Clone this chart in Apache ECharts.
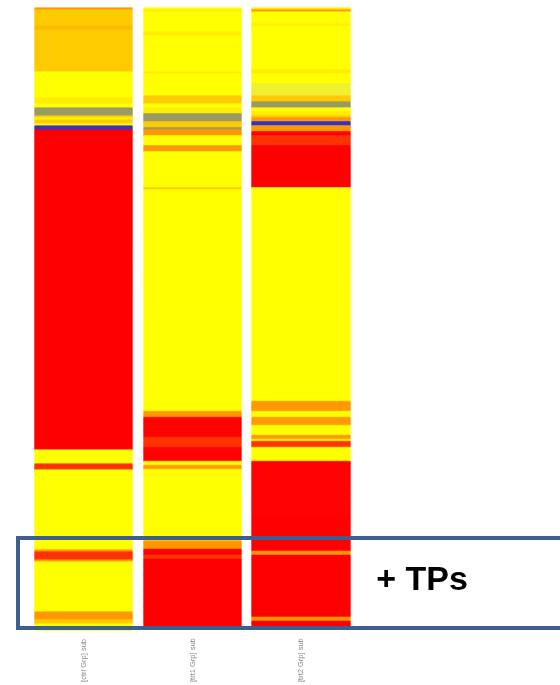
<!DOCTYPE html>
<html>
<head>
<meta charset="utf-8">
<script src="https://cdn.jsdelivr.net/npm/echarts@6/dist/echarts.min.js"></script>
<style>
  html, body { margin: 0; padding: 0; background: #ffffff; }
  #chart { width: 560px; height: 685px; }
</style>
</head>
<body>
<div id="chart"></div>
<script>
// ---- DATA ----
// Column (sample) labels
const columnLabels = ['[ctrl Grp] sub', '[trt1 Grp] sub', '[trt2 Grp] sub'];
// Number of rows (genes) in the heatmap
const rowCount = 311;
// Each column as run-length list: [number of rows, expression level]
// levels: 0 yellow, 1 light gold, 2 gold, 3 dark gold, 4 orange, 5 orange-red, 6 red, 7 missing (grey), 8 blue, 9 yellow-green
const col1Runs = [
  [1,4],[8,2],[2,3],[21,2],[13,0],[3,1],[2,0],[4,7],[1,2],[1,0],[2,2],[1,0],[2,8],
  [160,6],[7,0],[3,5],[40,0],[1,4],[4,5],[1,4],[25,0],[4,4],[2,2],[3,0]
];
const col2Runs = [
  [1,0],[1,1],[10,0],[2,1],[18,0],[1,1],[11,0],[4,2],[2,0],[3,1],[4,7],[3,2],[1,7],
  [3,4],[5,0],[3,4],[18,0],[1,2],[111,0],[3,4],[10,6],[5,5],[7,6],[2,0],[2,4],
  [35,0],[1,2],[4,4],[3,6],[2,5],[35,6]
];
const col3Runs = [
  [1,1],[1,4],[6,0],[1,1],[22,0],[2,1],[5,0],[6,9],[3,2],[3,7],[2,0],[2,1],[1,2],
  [2,4],[2,8],[3,4],[2,6],[5,5],[21,6],[107,0],[5,4],[3,0],[4,4],[5,0],[2,4],[1,0],
  [3,5],[7,0],[45,6],[2,4],[31,6],[2,4],[4,6]
];
const annotationText = '+ TPs';

// ---- STYLE ----
const levelColors = ['#ffff00','#ffee00','#ffcc00','#ffbb00','#ff9900','#ff3300','#ff0000','#9a9a66','#3333cc','#eef030'];

function expand(runs) {
  const out = [];
  runs.forEach(([n, v]) => { for (let k = 0; k < n; k++) out.push(v); });
  return out;
}
const columns = [col1Runs, col2Runs, col3Runs].map(expand);
const rowNames = Array.from({length: rowCount}, (_, i) => 'g' + (i + 1));

const gridLefts = [35, 144, 252];
const gridWidths = [97, 97, 98];

const grids = [], xAxes = [], yAxes = [], series = [];
columns.forEach((vals, i) => {
  grids.push({ left: gridLefts[i], width: gridWidths[i], top: 8, height: 622 });
  xAxes.push({
    type: 'category', gridIndex: i, data: [columnLabels[i]],
    axisLine: { show: false }, axisTick: { show: false },
    axisLabel: { rotate: 90, margin: 9, fontSize: 7.5, color: '#8a8a8a', fontFamily: 'Liberation Sans' }
  });
  yAxes.push({
    type: 'category', gridIndex: i, data: rowNames, inverse: true, show: false
  });
  series.push({
    type: 'heatmap', xAxisIndex: i, yAxisIndex: i,
    data: vals.map((v, r) => ({
      value: [0, r, v],
      itemStyle: { borderColor: levelColors[v], borderWidth: 0.6 }
    })),
    emphasis: { disabled: true },
    progressive: 0, animation: false
  });
});

const chart = echarts.init(document.getElementById('chart'), null, { renderer: 'canvas' });
chart.setOption({
  animation: false,
  backgroundColor: '#ffffff',
  grid: grids,
  xAxis: xAxes,
  yAxis: yAxes,
  visualMap: {
    type: 'piecewise', show: false, dimension: 2,
    seriesIndex: [0, 1, 2],
    pieces: levelColors.map((c, v) => ({ value: v, color: c }))
  },
  series: series,
  graphic: [
    {
      type: 'rect', z: 100,
      shape: { x: 18, y: 538, width: 560, height: 90 },
      style: { fill: 'none', stroke: '#3e5f8d', lineWidth: 4 }
    },
    {
      type: 'text', z: 101, x: 422, y: 581,
      style: {
        text: annotationText, fill: '#000000',
        font: 'bold 34px "Liberation Sans", Arial, sans-serif',
        textAlign: 'center', textVerticalAlign: 'middle'
      }
    }
  ]
});
</script>
</body>
</html>
